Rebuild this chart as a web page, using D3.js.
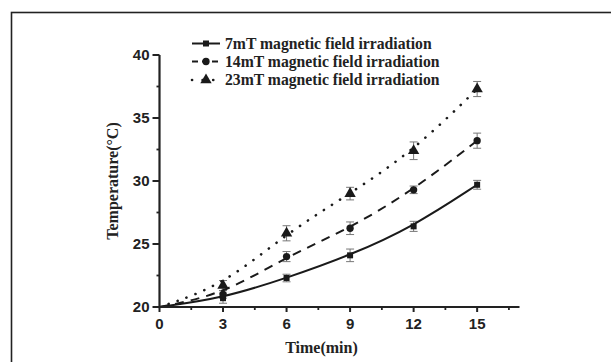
<!DOCTYPE html>
<html lang="en">
<head>
    <title>Temperature vs time</title>
    <script src="https://d3js.org/d3.v7.min.js"></script>
    <style>
        body { margin: 0; background: #fff; }
    </style>
</head>
<body>
    <div class="plot"></div>
    <script>

        // data
        const times = [0, 3, 6, 9, 12, 15];
        const seriesNames = [
            "7mT magnetic field irradiation",
            "14mT magnetic field irradiation",
            "23mT magnetic field irradiation"
        ];
        const temp7 = [20, 20.7, 22.3, 24.1, 26.4, 29.7];
        const temp14 = [20, 21.0, 24.0, 26.25, 29.3, 33.2];
        const temp23 = [20, 21.7, 25.85, 29.0, 32.4, 37.3];
        const err7 = [0, 0.4, 0.3, 0.5, 0.4, 0.35];
        const err14 = [0, 0.3, 0.4, 0.5, 0.3, 0.6];
        const err23 = [0, 0.4, 0.6, 0.5, 0.7, 0.6];
        const xTicks = [0, 3, 6, 9, 12, 15];
        const yTicks = [20, 25, 30, 35, 40];

        const W = 611, H = 362;
        const margin = { left: 159.5, right: W - 519.5, top: 55, bottom: H - 307 };

        const svg = d3.select(".plot")
            .append("svg")
            .attr("width", W)
            .attr("height", H);

        // frame around the figure
        svg.append("rect")
            .attr("x", 11.5).attr("y", 12.5)
            .attr("width", 620).attr("height", 380)
            .attr("fill", "none")
            .attr("stroke", "#222")
            .attr("stroke-width", 1.6);

        const x = d3.scaleLinear().domain([0, 17]).range([margin.left, W - margin.right]);
        const y = d3.scaleLinear().domain([20, 40]).range([H - margin.bottom, margin.top]);

        const series = [
            { name: seriesNames[0], vals: temp7, err: err7, dash: null, marker: "square" },
            { name: seriesNames[1], vals: temp14, err: err14, dash: "9,7", marker: "circle" },
            { name: seriesNames[2], vals: temp23, err: err23, dash: "0.1,9.5", marker: "triangle" }
        ];

        const line = d3.line()
            .x((d, i) => x(times[i]))
            .y(d => y(d))
            .curve(d3.curveBasis);

        // error bars
        series.forEach(s => {
            const g = svg.append("g").attr("stroke", "#777").attr("stroke-width", 1);
            s.vals.forEach((v, i) => {
                if (!s.err[i]) return;
                const cx = x(times[i]);
                g.append("line").attr("x1", cx).attr("x2", cx)
                    .attr("y1", y(v - s.err[i])).attr("y2", y(v + s.err[i]));
                [v - s.err[i], v + s.err[i]].forEach(e => {
                    g.append("line").attr("x1", cx - 4).attr("x2", cx + 4)
                        .attr("y1", y(e)).attr("y2", y(e));
                });
            });
        });

        // lines
        series.forEach(s => {
            svg.append("path")
                .datum(s.vals)
                .attr("d", line)
                .attr("fill", "none")
                .attr("stroke", "#1a1a1a")
                .attr("stroke-width", s.marker === "triangle" ? 2.6 : 2)
                .attr("stroke-linecap", s.marker === "triangle" ? "round" : "butt")
                .attr("stroke-dasharray", s.dash);
        });

        const symbolFor = m => m === "square" ? d3.symbolSquare : m === "circle" ? d3.symbolCircle : d3.symbolTriangle;
        const sizeFor = m => m === "square" ? 36 : m === "circle" ? 42 : 56;

        // markers
        series.forEach(s => {
            svg.append("g").selectAll("path")
                .data(s.vals.slice(1))
                .enter()
                .append("path")
                .attr("transform", (d, i) => `translate(${x(times[i + 1])},${y(d)})`)
                .attr("d", d3.symbol().type(symbolFor(s.marker)).size(sizeFor(s.marker)))
                .attr("fill", "#1a1a1a");
        });

        // x axis
        const xAxis = svg.append("g")
            .attr("transform", `translate(0,${y(20)})`);
        xAxis.append("line")
            .attr("x1", x(0) - 1).attr("x2", x(17))
            .attr("stroke", "#222").attr("stroke-width", 2.2);
        xAxis.selectAll(".minor")
            .data(d3.range(1.5, 17, 3))
            .enter().append("line")
            .attr("x1", d => x(d)).attr("x2", d => x(d))
            .attr("y1", 0).attr("y2", 3)
            .attr("stroke", "#222").attr("stroke-width", 1.8);
        xAxis.selectAll(".major")
            .data(xTicks)
            .enter().append("line")
            .attr("x1", d => x(d)).attr("x2", d => x(d))
            .attr("y1", 0).attr("y2", 5)
            .attr("stroke", "#222").attr("stroke-width", 2);
        xAxis.selectAll("text")
            .data(xTicks)
            .enter().append("text")
            .attr("x", d => x(d))
            .attr("y", 22)
            .attr("text-anchor", "middle")
            .style("font-family", "'Liberation Sans', Arial, sans-serif")
            .style("font-weight", "bold")
            .style("font-size", "15px")
            .style("fill", "#222")
            .text(d => d);

        // y axis
        const yAxis = svg.append("g")
            .attr("transform", `translate(${x(0)},0)`);
        yAxis.append("line")
            .attr("y1", y(40)).attr("y2", y(20) + 1)
            .attr("stroke", "#222").attr("stroke-width", 2.2);
        yAxis.selectAll(".minor")
            .data(d3.range(22.5, 40, 5))
            .enter().append("line")
            .attr("x1", -3).attr("x2", 0)
            .attr("y1", d => y(d)).attr("y2", d => y(d))
            .attr("stroke", "#222").attr("stroke-width", 1.8);
        yAxis.selectAll(".major")
            .data(yTicks)
            .enter().append("line")
            .attr("x1", -7).attr("x2", 0)
            .attr("y1", d => y(d)).attr("y2", d => y(d))
            .attr("stroke", "#222").attr("stroke-width", 2);
        yAxis.selectAll("text")
            .data(yTicks)
            .enter().append("text")
            .attr("x", -10)
            .attr("y", d => y(d) + 5)
            .attr("text-anchor", "end")
            .style("font-family", "'Liberation Sans', Arial, sans-serif")
            .style("font-weight", "bold")
            .style("font-size", "15px")
            .style("fill", "#222")
            .text(d => d);

        // axis titles
        svg.append("text")
            .attr("x", (x(0) + x(17)) / 2 - 18)
            .attr("y", 353)
            .attr("text-anchor", "middle")
            .style("font-family", "'Liberation Serif', 'Times New Roman', serif")
            .style("font-weight", "bold")
            .style("font-size", "16px")
            .style("fill", "#222")
            .text("Time(min)");

        svg.append("text")
            .attr("transform", `translate(118,${(y(20) + y(40)) / 2}) rotate(-90)`)
            .attr("text-anchor", "middle")
            .style("font-family", "'Liberation Serif', 'Times New Roman', serif")
            .style("font-weight", "bold")
            .style("font-size", "16px")
            .style("fill", "#222")
            .text("Temperature(°C)");

        // legend
        const legendY = [43.5, 61.5, 80];
        const legend = svg.append("g");
        series.forEach((s, i) => {
            const row = legend.append("g").attr("transform", `translate(0,${legendY[i]})`);
            row.append("line")
                .attr("x1", 192).attr("x2", 220)
                .attr("stroke", "#1a1a1a")
                .attr("stroke-width", s.marker === "triangle" ? 2.6 : 2)
                .attr("stroke-linecap", s.marker === "triangle" ? "round" : "butt")
                .attr("stroke-dasharray", s.marker === "circle" ? "6,4" : s.marker === "triangle" ? "0.1,10.5" : null);
            row.append("path")
                .attr("transform", "translate(206,0)")
                .attr("d", d3.symbol().type(symbolFor(s.marker)).size(sizeFor(s.marker)))
                .attr("fill", "#1a1a1a");
            row.append("text")
                .attr("x", 225)
                .attr("y", 5)
                .style("font-family", "'Liberation Serif', 'Times New Roman', serif")
                .style("font-weight", "bold")
                .style("font-size", "15.7px")
                .style("fill", "#222")
                .text(s.name);
        });

    </script>
</body>
</html>
